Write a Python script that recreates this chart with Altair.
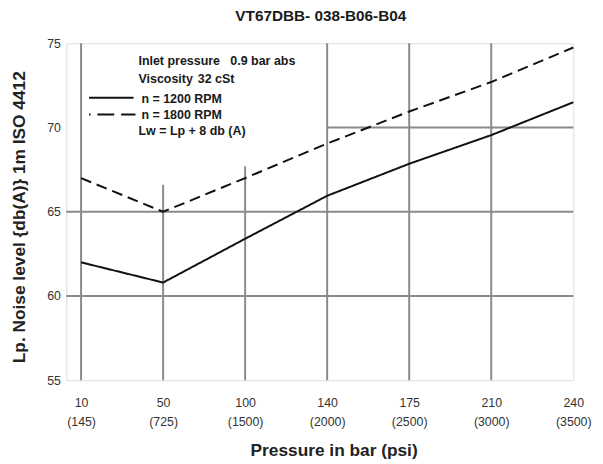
import altair as alt
import pandas as pd

# ---- data ----
bar_values = ["10", "50", "100", "140", "175", "210", "240"]
psi_values = ["(145)", "(725)", "(1500)", "(2000)", "(2500)", "(3000)", "(3500)"]
noise_1200 = [62.0, 60.8, 63.4, 65.95, 67.85, 69.55, 71.5]
noise_1800 = [67.0, 65.0, 67.0, 69.05, 70.95, 72.7, 74.75]
series_names = ["n = 1200 RPM", "n = 1800 RPM"]
y_ticks = [55, 60, 65, 70, 75]
chart_title = "VT67DBB- 038-B06-B04"

W, H = 513, 341
FONT = "Liberation Sans"
GRID = "#8a8a8a"
INK = "#111111"

cats = [f"{b} {p}" for b, p in zip(bar_values, psi_values)]

lines_df = pd.DataFrame(
    [{"cat": c, "noise": v, "series": series_names[0]} for c, v in zip(cats, noise_1200)]
    + [{"cat": c, "noise": v, "series": series_names[1]} for c, v in zip(cats, noise_1800)]
)

xscale = alt.Scale(type="point", domain=cats, padding=0.09, align=1)
yscale = alt.Scale(domain=[55, 75], nice=False, zero=False)

x_axis = alt.Axis(
    labelExpr="split(datum.label, ' ')",
    labelAngle=0,
    labelFontSize=12.5,
    labelColor="#333333",
    labelFont=FONT,
    labelPadding=17,
    labelLineHeight=19,
    ticks=False,
    tickSize=0,
    domain=False,
    grid=False,
    title="Pressure in bar (psi)",
    titleFont=FONT,
    titleFontSize=17.5,
    titleFontWeight="bold",
    titleColor="#222222",
    titlePadding=14,
    titleX=W / 2 + 14,
)
y_axis = alt.Axis(
    values=y_ticks,
    labelFontSize=12.5,
    labelColor="#333333",
    labelFont=FONT,
    labelPadding=6,
    ticks=False,
    tickSize=0,
    domain=False,
    grid=False,
    title="Lp. Noise level {db(A)} 1m ISO 4412",
    titleFont=FONT,
    titleFontSize=17.5,
    titleFontWeight="bold",
    titleColor="#222222",
    titlePadding=18,
    titleY=H / 2 + 5,
)

# grid segments (partial, as in the reference: legend area left clear)
vgrid_df = pd.DataFrame({
    "cat": cats[:-1],
    "low": [55] * 6,
    "top": [75, 66.6, 67.7, 75, 75, 75],
})
vgrid = alt.Chart(vgrid_df).mark_rule(color=GRID, strokeWidth=2).encode(
    x=alt.X("cat:N", scale=xscale, axis=x_axis, sort=cats),
    y=alt.Y("low:Q", scale=yscale, axis=y_axis),
    y2="top:Q",
)

hgrid = alt.Chart(pd.DataFrame({"v": [60, 65]})).mark_rule(color=GRID, strokeWidth=2).encode(
    y=alt.Y("v:Q", scale=yscale),
    x=alt.value(0),
    x2=alt.value(W),
)

h70 = alt.Chart(pd.DataFrame({"cat": [cats[3]], "v": [70]})).mark_rule(color=GRID, strokeWidth=2).encode(
    x=alt.X("cat:N", scale=xscale, sort=cats),
    x2=alt.value(W),
    y=alt.Y("v:Q", scale=yscale),
)

lines = alt.Chart(lines_df).mark_line(color=INK, strokeWidth=2).encode(
    x=alt.X("cat:N", scale=xscale, sort=cats),
    y=alt.Y("noise:Q", scale=yscale),
    strokeDash=alt.StrokeDash(
        "series:N",
        scale=alt.Scale(domain=series_names, range=[[1, 0], [11, 6]]),
        legend=None,
    ),
    detail="series:N",
)

one = alt.Data(values=[{}])


def label(text, x, y, size=12.6, align="left"):
    return alt.Chart(one).mark_text(
        font=FONT, fontSize=size, fontWeight="bold", color="#1a1a1a",
        align=align, baseline="alphabetic",
    ).encode(x=alt.value(x), y=alt.value(y), text=alt.value(text))


legend_layers = [
    label("Inlet pressure", 73, 22.3),
    label("0.9 bar abs", 166, 22.3),
    label("Viscosity", 73, 40),
    label("32 cSt", 133, 40),
    label(series_names[0], 76, 60),
    label(series_names[1], 76, 77),
    label("Lw = Lp + 8 db (A)", 73, 93.3),
    alt.Chart(one).mark_rule(color=INK, strokeWidth=2).encode(
        x=alt.value(23), x2=alt.value(68), y=alt.value(55)
    ),
    alt.Chart(one).mark_rule(color=INK, strokeWidth=2, strokeDash=[17, 7], strokeDashOffset=15.5).encode(
        x=alt.value(23), x2=alt.value(70), y=alt.value(72)
    ),
]

title_layer = label(chart_title, W / 2 + 1, -22.7, size=15.5, align="center")

chart = alt.layer(vgrid, hgrid, h70, lines, *legend_layers, title_layer).properties(
    width=W,
    height=H,
    autosize=alt.AutoSizeParams(type="none"),
    padding={"left": 59, "top": 33, "right": 22, "bottom": 82},
).configure_view(
    stroke=GRID, strokeWidth=2
).configure(background="white")

chart.save("out.html", embed_options={"renderer": "svg", "actions": False})
